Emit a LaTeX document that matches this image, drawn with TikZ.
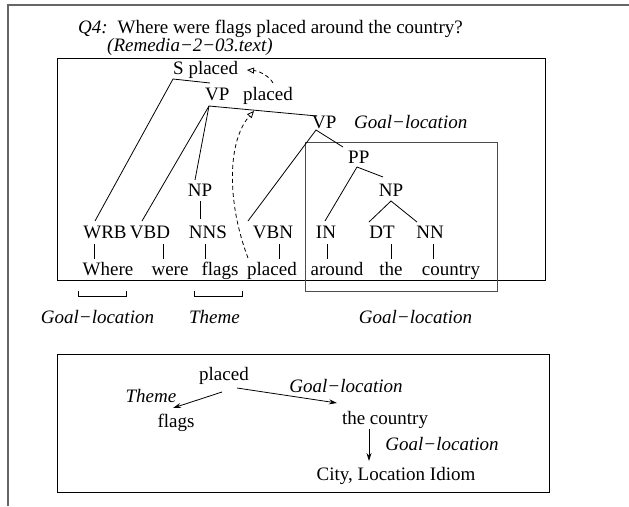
\documentclass[tikz,border=0pt]{standalone}
\usepackage{fontspec}
\setmainfont{Liberation Serif}
\usetikzlibrary{arrows.meta}
\begin{document}
\begin{tikzpicture}[x=1pt,y=-1pt,
  txt/.style={inner sep=0pt, anchor=base, font=\fontsize{19}{23}\selectfont},
  itx/.style={inner sep=0pt, anchor=base, font=\fontsize{19}{23}\selectfont\itshape},
  branch/.style={line width=0.8pt},
  boxline/.style={line width=0.9pt},
  percol/.style={line width=0.8pt, dash pattern=on 4pt off 3pt,
    -{Triangle[open,length=7pt,width=6pt]}},
  rel/.style={line width=0.8pt, -{Stealth[length=8pt,width=5pt]}}]
\useasboundingbox (0,0) rectangle (629,506);
\fill[white] (0,0) rectangle (629,506);

% outer page frame
\draw[black!60, line width=1.5pt] (8,506) -- (8,5) -- (629,5);

% question and source
\node[txt, anchor=base west] (q) at (78,33) {\textit{Q4:}\hspace{10pt}Where were flags placed around the country?};
\node[itx, anchor=base west] (src) at (107,51) {(Remedia−2−03.text)};

% parse tree frame and the goal-location frame
\draw[boxline] (57,58) rectangle (545,280);
\draw[boxline, black!70] (305,142) rectangle (497,291);

% phrase nodes
\node[txt, anchor=base west] (S) at (173,74) {S placed};
\node[txt, anchor=base west] (VP1) at (205,100) {VP};
\node[txt, anchor=base west] (VP1h) at (243,100) {placed};
\node[txt, anchor=base west] (VP2) at (312,128) {VP};
\node[itx, anchor=base west] (VP2r) at (354,128) {Goal−location};
\node[txt, anchor=base west] (PP) at (348,163) {PP};
\node[txt] (NP1) at (200,196) {NP};
\node[txt] (NP2) at (391,196) {NP};

% part-of-speech row
\node[txt] (WRB) at (105,238) {WRB};
\node[txt] (VBD) at (150,238) {VBD};
\node[txt] (NNS) at (208,238) {NNS};
\node[txt] (VBN) at (273,238) {VBN};
\node[txt] (IN)  at (326,238) {IN};
\node[txt] (DT)  at (382,238) {DT};
\node[txt] (NN)  at (430,238) {NN};

% word row
\node[txt] (w1) at (108,275) {Where};
\node[txt] (w2) at (170,275) {were};
\node[txt] (w3) at (220,275) {flags};
\node[txt] (w4) at (272,275) {placed};
\node[txt] (w5) at (337,275) {around};
\node[txt] (w6) at (391,275) {the};
\node[txt] (w7) at (451,275) {country};

% branch end points
\coordinate (S-j)   at (173,79);
\coordinate (S-e)   at (210,83);
\coordinate (VP1-j) at (209,106);
\coordinate (VP1-e) at (317,116);
\coordinate (WRB-t) at (95,221);
\coordinate (VBD-t) at (142,221);
\coordinate (NP1-t) at (195,180);
\coordinate (NP1-b) at (200,201);
\coordinate (NNS-t) at (200,219);
\coordinate (VP2-j) at (316,130);
\coordinate (VBN-t) at (248,221);
\coordinate (VP2-e) at (343,147);
\coordinate (PP-j)  at (357,167);
\coordinate (IN-t)  at (325,221);
\coordinate (PP-e)  at (383,177);
\coordinate (NP2-j) at (391,201);
\coordinate (DT-t)  at (369,222);
\coordinate (NN-t)  at (417,222);

% tree branches
\draw[branch] (S-e) -- (S-j) -- (WRB-t);
\draw[branch] (VP1-e) -- (VP1-j) -- (VBD-t);
\draw[branch] (VP1-j) -- (NP1-t);
\draw[branch] (NP1-b) -- (NNS-t);
\draw[branch] (VBN-t) -- (VP2-j) -- (VP2-e);
\draw[branch] (IN-t) -- (PP-j) -- (PP-e);
\draw[branch] (DT-t) -- (NP2-j) -- (NN-t);

% tags to words
\foreach \x/\n in {94/a,163/b,205/c,279/d,327/e,391/f,433/g}{
  \coordinate (tk\n-t) at (\x,244);
  \coordinate (tk\n-b) at (\x,259);
  \draw[branch] (tk\n-t) -- (tk\n-b);
}

% head percolation
\coordinate (hd-a) at (273,83);
\coordinate (hd-b) at (247,70);
\coordinate (hd-c) at (248,258);
\coordinate (hd-d) at (254,111);
\draw[percol] (hd-a) .. controls (270,77) and (260,71) .. (hd-b);
\draw[percol] (hd-c) .. controls (226,200) and (228,140) .. (hd-d);

% role spans under the sentence
\draw[branch] (78,291) -- (78,296) -- (126,296) -- (126,291);
\draw[branch] (194,291) -- (194,296) -- (242,296) -- (242,291);
\node[itx] (r1) at (97.5,323) {Goal−location};
\node[itx] (r2) at (214.5,323) {Theme};
\node[itx] (r3) at (415.5,323) {Goal−location};

% semantic frame
\draw[boxline] (57,354) rectangle (549,492);
\node[txt] (fp) at (224,380) {placed};
\node[txt] (ff) at (176,427) {flags};
\node[txt] (fc) at (385,424) {the country};
\node[txt] (fl) at (396,480) {City, Location Idiom};
\node[itx] (lt) at (151,402) {Theme};
\node[itx] (lg1) at (346,392) {Goal−location};
\node[itx] (lg2) at (442,450) {Goal−location};
\draw[rel] ([shift={(-2,12)}]fp.base) -- ([shift={(-3,-19)}]ff.base);
\draw[rel] ([shift={(13,8)}]fp.base) -- ([shift={(-48,-21)}]fc.base);
\draw[rel] ([shift={(-16,5)}]fc.base) -- ([shift={(-27,-19)}]fl.base);
\end{tikzpicture}
\end{document}
